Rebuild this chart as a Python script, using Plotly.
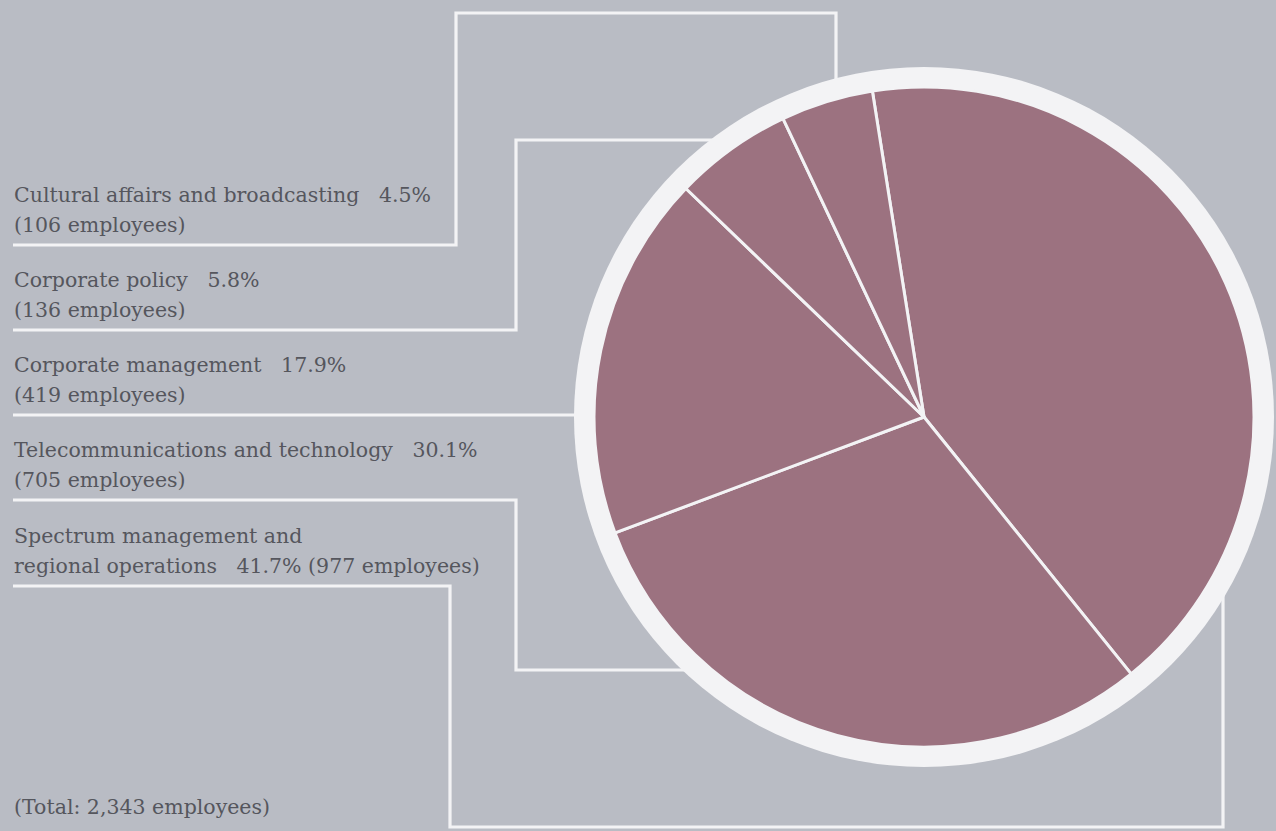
import plotly.graph_objects as go

# ---- data ----
categories = [
    "Spectrum management and regional operations",
    "Telecommunications and technology",
    "Corporate management",
    "Corporate policy",
    "Cultural affairs and broadcasting",
]
percents = [41.7, 30.1, 17.9, 5.8, 4.5]
employees = [977, 705, 419, 136, 106]
total_employees = 2343

# ---- figure geometry (pixels) ----
W, H = 1276, 831
CX, CY = 924, 417
R_IN, R_OUT = 330, 350
BG = "#b9bcc4"
PIE = "#9c7280"
WHITE = "#f3f3f5"
TXT = "#55565d"
FONT = "DejaVu Serif"
FS = 20.5
SP = "\u00a0" * 3


def px(x):
    return x / W


def py(y):
    return 1 - y / H


fig = go.Figure()
fig.add_trace(go.Pie(
    labels=categories,
    values=employees,
    sort=False,
    direction="clockwise",
    rotation=-9,
    marker=dict(colors=[PIE] * len(categories), line=dict(color=WHITE, width=3)),
    textinfo="none",
    hoverinfo="label+value+percent",
    showlegend=False,
    domain=dict(x=[px(CX - R_IN), px(CX + R_IN)], y=[py(CY + R_IN), py(CY - R_IN)]),
))

shapes = []
# white ring behind the pie
shapes.append(dict(type="circle", xref="paper", yref="paper", layer="below",
                   x0=px(CX - R_OUT), x1=px(CX + R_OUT), y0=py(CY + R_OUT), y1=py(CY - R_OUT),
                   fillcolor=WHITE, line=dict(width=0)))

# leader lines (pixel paths)
rend = R_OUT - 6
leaders = [
    [(13, 586), (450, 586), (450, 827), (1223, 827), (1223, CY + (rend**2 - (1223 - CX)**2) ** 0.5)],
    [(13, 500), (516, 500), (516, 670), (CX - (rend**2 - (670 - CY)**2) ** 0.5, 670)],
    [(13, 415), (CX - (rend**2 - (415 - CY)**2) ** 0.5, 415)],
    [(13, 330), (516, 330), (516, 140), (CX - (rend**2 - (140 - CY)**2) ** 0.5, 140)],
    [(13, 245), (456, 245), (456, 13), (836, 13), (836, CY - (rend**2 - (836 - CX)**2) ** 0.5)],
]
for pts in leaders:
    path = "M " + " L ".join(f"{px(x)},{py(y)}" for x, y in pts)
    shapes.append(dict(type="path", xref="paper", yref="paper", layer="below", path=path,
                       line=dict(color=WHITE, width=3.2)))

# label texts
line_y = [586, 500, 415, 330, 245]
annotations = []
for i, name in enumerate(categories):
    if i == 0:
        l1 = "Spectrum management and"
        l2 = f"regional operations{SP}{percents[i]}% ({employees[i]} employees)"
    else:
        l1 = f"{name}{SP}{percents[i]}%"
        l2 = f"({employees[i]} employees)"
    for txt, off in [(l1, 50), (l2, 20)]:
        annotations.append(dict(text=txt, x=px(12), y=py(line_y[i] - off), xref="paper", yref="paper",
                                xanchor="left", yanchor="middle", showarrow=False,
                                font=dict(family=FONT, size=FS, color=TXT)))

annotations.append(dict(text=f"(Total: {total_employees:,} employees)", x=px(12), y=py(807),
                        xref="paper", yref="paper", xanchor="left", yanchor="middle", showarrow=False,
                        font=dict(family=FONT, size=FS, color=TXT)))

fig.update_layout(
    width=W, height=H,
    margin=dict(l=0, r=0, t=0, b=0),
    paper_bgcolor=BG, plot_bgcolor=BG,
    shapes=shapes, annotations=annotations,
    showlegend=False,
)

fig.write_html("out.html")
